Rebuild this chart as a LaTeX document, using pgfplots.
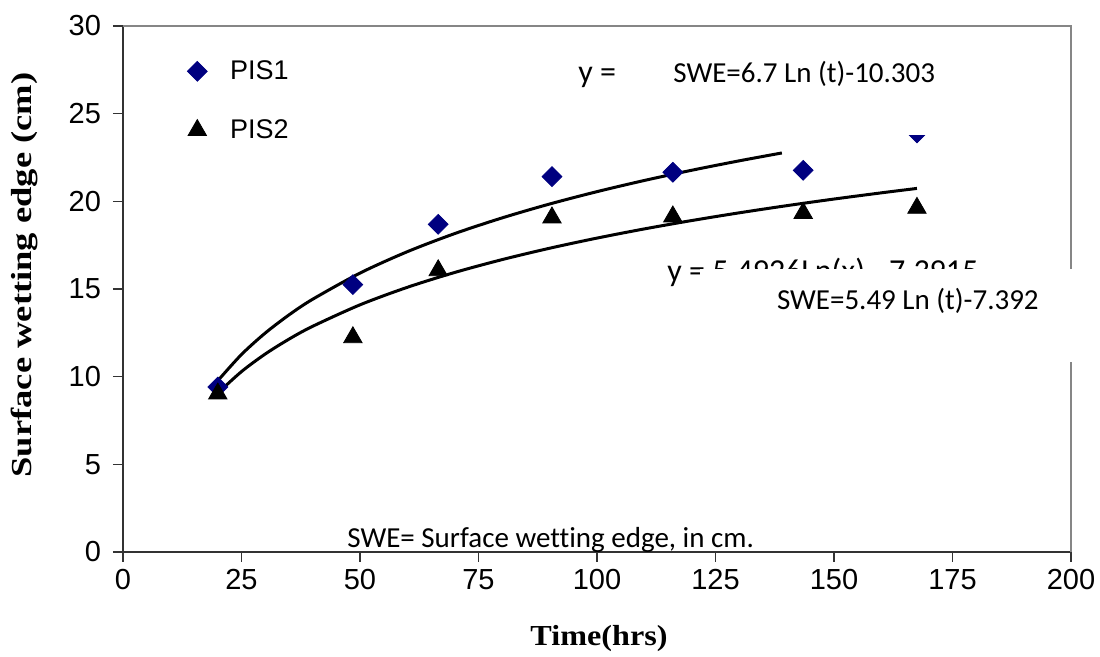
\documentclass[border=0pt]{standalone}
\usepackage{fontspec}
\setmainfont{Liberation Sans}
\newfontfamily\calibri[Ligatures=NoCommon]{Carlito}
\newfontfamily\timesfont{Liberation Serif}
\usepackage{pgfplots}
\pgfplotsset{compat=1.18}
\definecolor{pisblue}{HTML}{000080}
\definecolor{frame}{HTML}{868686}

\begin{document}
\begin{tikzpicture}
\begin{axis}[at={(0,0)},anchor=south west,width=474pt,height=263pt,scale only axis,
  xmin=0,xmax=200,ymin=0,ymax=30,
  axis x line=bottom,axis y line=left,axis line style={-,black!80,line width=0.8pt},
  xtick={0,25,...,200},ytick={0,5,...,30},
  tick align=outside,major tick length=5pt,tick style={black!80,line width=0.8pt},
  ticklabel style={font=\fontsize{14.5}{16}\selectfont},
  yticklabel style={xshift=-2.5pt},
  /pgf/number format/assume math mode=true,
  legend style={draw=none,fill=none,at={(29pt,250pt)},anchor=north west,
    font=\fontsize{13.5}{16}\selectfont,row sep=14.5pt},
  legend cell align=left]
% trend lines
\addplot[forget plot,black,line width=1.5pt,smooth] coordinates {
  (20,9.768)(25,11.264)(30,12.485)(35,13.518)(40,14.413)(50,15.907)(60,17.129)
  (70,18.162)(80,19.056)(90,19.846)(100,20.552)(110,21.190)(120,21.773)(130,22.309)(139,22.758)};
\addplot[forget plot,black,line width=1.5pt,smooth] coordinates {
  (20,9.063)(25,10.289)(30,11.290)(35,12.137)(40,12.870)(50,14.096)(60,15.097)
  (70,15.944)(80,16.677)(90,17.324)(100,17.903)(110,18.427)(120,18.905)(130,19.344)
  (140,19.751)(150,20.130)(160,20.484)(167.5,20.736)};
% measured points
\addplot[only marks,mark=square*,mark size=3.5pt,mark options={rotate=45,pisblue,fill=pisblue}] coordinates {
  (20,9.41)(48.5,15.25)(66.5,18.69)(90.5,21.41)(116,21.66)(143.5,21.77)(167.5,23.9)};
\addlegendentry{\hspace{9.5pt}PIS1}
\addplot[only marks,mark=triangle*,mark size=5.3pt,mark options={black,fill=black}] coordinates {
  (20,9.03)(48.5,12.24)(66.5,16.06)(90.5,19.07)(116,19.13)(143.5,19.33)(167.5,19.62)};
\addlegendentry{\hspace{9.5pt}PIS2}
\end{axis}
% frame top and right
\draw[frame,line width=0.8pt] (0,263pt) -- (474pt,263pt) -- (474pt,0);
% trendline labels partly hidden by text boxes
\node[anchor=base west,inner sep=0pt,font=\calibri\fontsize{16}{18}\selectfont] at (227.5pt,234.5pt) {y =};
\node[anchor=base west,inner sep=0pt,font=\calibri\fontsize{16}{18}\selectfont] at (272pt,135pt) {y = 5.4926Ln(x) - 7.3915};
\fill[white] (258.5pt,208.5pt) rectangle (471.5pt,258.5pt);
\fill[white] (288.5pt,95pt) rectangle (483.5pt,141.5pt);
\node[anchor=base west,inner sep=0pt,font=\calibri\fontsize{14.5}{17}\selectfont] at (275pt,234.5pt) {SWE=6.7 Ln (t)-10.303};
\node[anchor=base west,inner sep=0pt,font=\calibri\fontsize{14.5}{17}\selectfont] at (326.8pt,121pt) {SWE=5.49 Ln (t)-7.392};
\node[anchor=base west,inner sep=0pt,font=\calibri\fontsize{14.5}{17}\selectfont] at (112pt,2pt) {SWE= Surface wetting edge, in cm.};
% axis titles
\node[anchor=base,inner sep=0pt,rotate=90,font=\timesfont\bfseries\fontsize{14.5}{16}\selectfont] at (-45.5pt,138.5pt) {\scalebox{1.26}[1]{Surface wetting edge (cm)}};
\node[anchor=base,inner sep=0pt,font=\timesfont\bfseries\fontsize{14.5}{16}\selectfont] at (238pt,-47pt) {\scalebox{1.11}[1]{Time(hrs)}};
\pgfresetboundingbox
\path[use as bounding box] (-61.5pt,-52.5pt) rectangle (488.5pt,276pt);
\end{tikzpicture}
\end{document}
